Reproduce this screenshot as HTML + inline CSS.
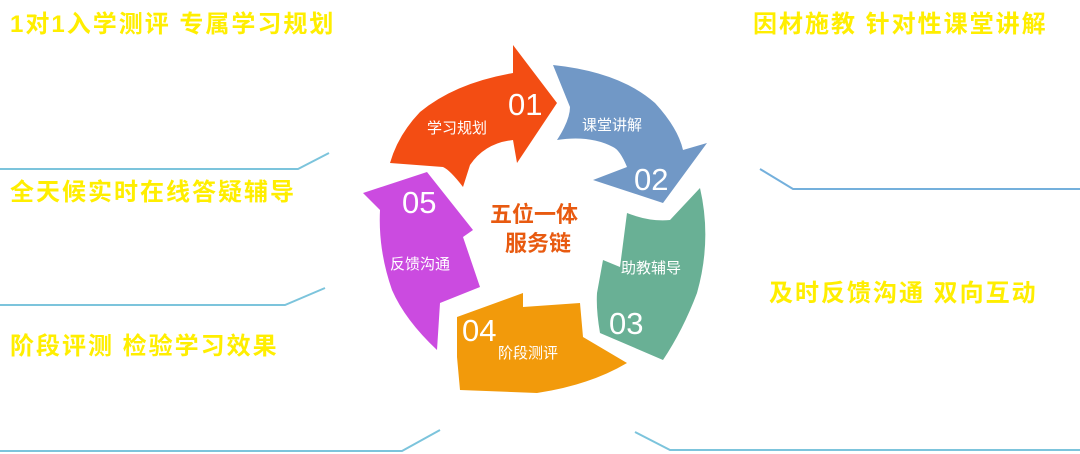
<!DOCTYPE html>
<html><head><meta charset="utf-8"><style>
body{margin:0;width:1080px;height:454px;background:#fff;overflow:hidden;position:relative;font-family:"Liberation Sans","Noto Sans CJK SC",sans-serif}
.t{position:absolute;color:#ffee00;font-weight:bold;font-size:24px;line-height:26px;letter-spacing:2px;white-space:nowrap}
svg{position:absolute;left:0;top:0}
</style></head><body>
<div class="t" style="left:10px;top:12px">1对1入学测评 专属学习规划</div>
<div class="t" style="left:10px;top:180px">全天候实时在线答疑辅导</div>
<div class="t" style="left:10px;top:334px">阶段评测 检验学习效果</div>
<div class="t" style="left:753px;top:12px">因材施教 针对性课堂讲解</div>
<div class="t" style="left:769px;top:281px">及时反馈沟通 双向互动</div>
<svg width="1080" height="454" font-family="Liberation Sans, Noto Sans CJK SC, sans-serif">
<g fill="none" stroke="#7cc4dc" stroke-width="2">
<polyline points="0,169 298,169 329,153"/>
<polyline points="0,305 285,305 325,288"/>
<polyline points="0,451 402,451 440,430"/>
<polyline points="760,169 793,189 1080,189" stroke="#74b0dc"/>
<polyline points="635,432 670,450 1080,450"/>
</g>
<path fill="#f34d13" d="M390,163 Q398,135 420,112 Q455,83 513,73 L513,45 L557,103 L517,163 L513,140 Q485,143 470,165 L463,187 Q450,170 443,167 Z"/>
<path fill="#7198c6" d="M553,65 Q620,72 655,103 Q678,128 683,150 L707,143 L663,203 L593,180 L627,167 Q620,150 613,147 Q590,135 557,140 Q570,120 570,107 Z"/>
<path fill="#69b095" d="M700,188 Q712,240 697,293 Q683,330 663,360 L600,333 Q596,310 597,293 L603,260 L620,267 L627,213 Q650,222 670,220 Z"/>
<path fill="#f29a0b" d="M457,317 L523,293 L523,307 L580,303 L583,337 L627,363 Q590,385 537,393 L460,390 L457,357 Z"/>
<path fill="#cb4be0" d="M363,193 L427,172 L473,230 L463,237 L480,287 L440,303 L437,350 Q405,320 392,290 Q378,250 380,210 Z"/>
<g fill="#fff">
<text x="508" y="115" font-size="31">01</text>
<text x="634" y="190" font-size="31">02</text>
<text x="609" y="334" font-size="31">03</text>
<text x="462" y="341" font-size="31">04</text>
<text x="402" y="213" font-size="31">05</text>
<g font-size="15">
<text x="427" y="133">学习规划</text>
<text x="582" y="130">课堂讲解</text>
<text x="621" y="273">助教辅导</text>
<text x="498" y="358">阶段测评</text>
<text x="390" y="269">反馈沟通</text>
</g></g>
<g fill="#e85a10" font-weight="bold" font-size="22">
<text x="490" y="222">五位一体</text>
<text x="505" y="251">服务链</text>
</g>
</svg>
</body></html>
